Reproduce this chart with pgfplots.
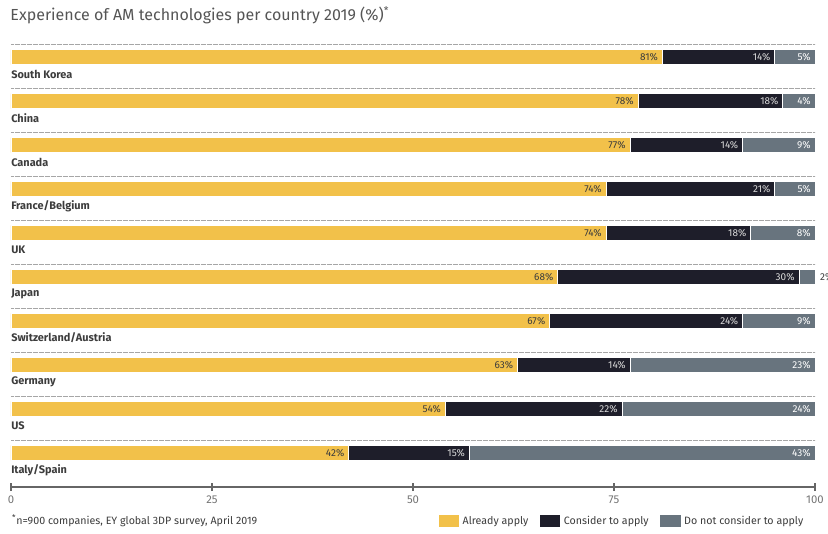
\documentclass[border=0pt]{standalone}
\usepackage{fontspec}
\setmainfont{Fira Sans}
\usepackage{pgfplots}
\pgfplotsset{compat=1.18}
\definecolor{ey}{RGB}{242,193,74}
\definecolor{dk}{RGB}{30,30,42}
\definecolor{gy}{RGB}{104,116,126}
\definecolor{txt}{RGB}{60,60,60}
\definecolor{ttl}{RGB}{85,85,85}
\begin{document}
\begin{tikzpicture}
\begin{axis}[
  scale only axis, width=603pt, height=342.3pt,
  xmin=0, xmax=100, ymin=-0.773, ymax=9.6,
  xbar stacked, bar width=11.25pt,
  axis x line*=bottom, hide y axis,
  xtick={0,25,50,75,100}, ytick=\empty,
  tick align=center, major tick length=6pt,
  x axis line style={gray!80!black, line width=0.8pt},
  xtick style={gray!80!black, line width=0.8pt},
  /pgf/number format/assume math mode=true,
  tick label style={font=\fontsize{8.5}{10}\selectfont, text=gray!90!black},
  clip=false,
  point meta=explicit,
  nodes near coords={\pgfmathprintnumber{\pgfplotspointmeta}\%},
  legend style={at={(0.994,-0.0745)}, anchor=east, draw=none, fill=none,
    legend columns=3, font=\fontsize{8}{10}\selectfont, text=txt,
    /tikz/every even column/.append style={column sep=6pt}},
  legend image code/.code={\fill[#1] (0pt,-5pt) rectangle (16pt,5pt);},
]
\addplot[fill=ey, draw=white, line width=0.6pt,
  visualization depends on={\thisrow{v}*3.015\as\hs},
  every node near coord/.style={anchor=east, xshift={\hs pt-1pt}, inner sep=2pt, text=txt, font=\fontsize{7.5}{9}\selectfont}]
  table[x=v, y=i, meta=v] {
i v
9 81
8 78
7 77
6 74
5 74
4 68
3 67
2 63
1 54
0 42
};
\addlegendentry{Already apply}
\addplot[fill=dk, draw=white, line width=0.6pt,
  visualization depends on={\thisrow{v}*3.015\as\hs},
  every node near coord/.style={anchor=east, xshift={\hs pt-1pt}, inner sep=2pt, text=gray!30, font=\fontsize{7.5}{9}\selectfont}]
  table[x=v, y=i, meta=v] {
i v
9 14
8 18
7 14
6 21
5 18
4 30
3 24
2 14
1 22
0 15
};
\addlegendentry{Consider to apply}
\addplot[fill=gy, draw=white, line width=0.6pt,
  visualization depends on={\thisrow{v}*3.015\as\hs},
  visualization depends on={value \thisrow{a}\as\myanc},
  visualization depends on={value \thisrow{s}\as\mysh},
  visualization depends on={value \thisrow{c}\as\mycol},
  every node near coord/.style={anchor=\myanc, xshift={\hs pt+\mysh pt}, inner sep=2pt, text=\mycol, font=\fontsize{7.5}{9}\selectfont}]
  table[x=v, y=i, meta=v] {
i v a s c
9 5 east -1 white
8 4 east -1 white
7 9 east -1 white
6 5 east -1 white
5 8 east -1 white
4 2 west 1.5 txt
3 9 east -1 white
2 23 east -1 white
1 24 east -1 white
0 43 east -1 white
};
\addlegendentry{Do not consider to apply}
\pgfplotsinvokeforeach{0,...,9}{
  \draw[gray!70, line width=0.5pt, dash pattern=on 0.4pt off 0.5pt] (axis cs:0,#1+0.295) -- (axis cs:100,#1+0.295);
}
\tikzset{cl/.style={anchor=west, inner sep=0pt, text=txt, font=\fontsize{8.2}{10}\selectfont\bfseries}}
\node[cl] at (axis cs:0,9-0.386) {South Korea};
\node[cl] at (axis cs:0,8-0.386) {China};
\node[cl] at (axis cs:0,7-0.386) {Canada};
\node[cl] at (axis cs:0,6-0.386) {France/Belgium};
\node[cl] at (axis cs:0,5-0.386) {UK};
\node[cl] at (axis cs:0,4-0.386) {Japan};
\node[cl] at (axis cs:0,3-0.386) {Switzerland/Austria};
\node[cl] at (axis cs:0,2-0.386) {Germany};
\node[cl] at (axis cs:0,1-0.386) {US};
\node[cl] at (axis cs:0,0-0.386) {Italy/Spain};
\node[anchor=west, inner sep=0pt, text=ttl, font=\fontsize{12}{14}\selectfont] at (axis description cs:-0.001,1.034) {Experience of AM technologies per country 2019 (\%)\textsuperscript{*}};
\node[anchor=west, inner sep=0pt, text=txt, font=\fontsize{8}{10}\selectfont] at (axis description cs:0.001,-0.0745) {\textsuperscript{*}n=900 companies, EY global 3DP survey, April 2019};
\end{axis}
\pgfresetboundingbox
\path[use as bounding box] (-8.25pt,-34.5pt) rectangle (612.75pt,365.25pt);
\end{tikzpicture}
\end{document}
